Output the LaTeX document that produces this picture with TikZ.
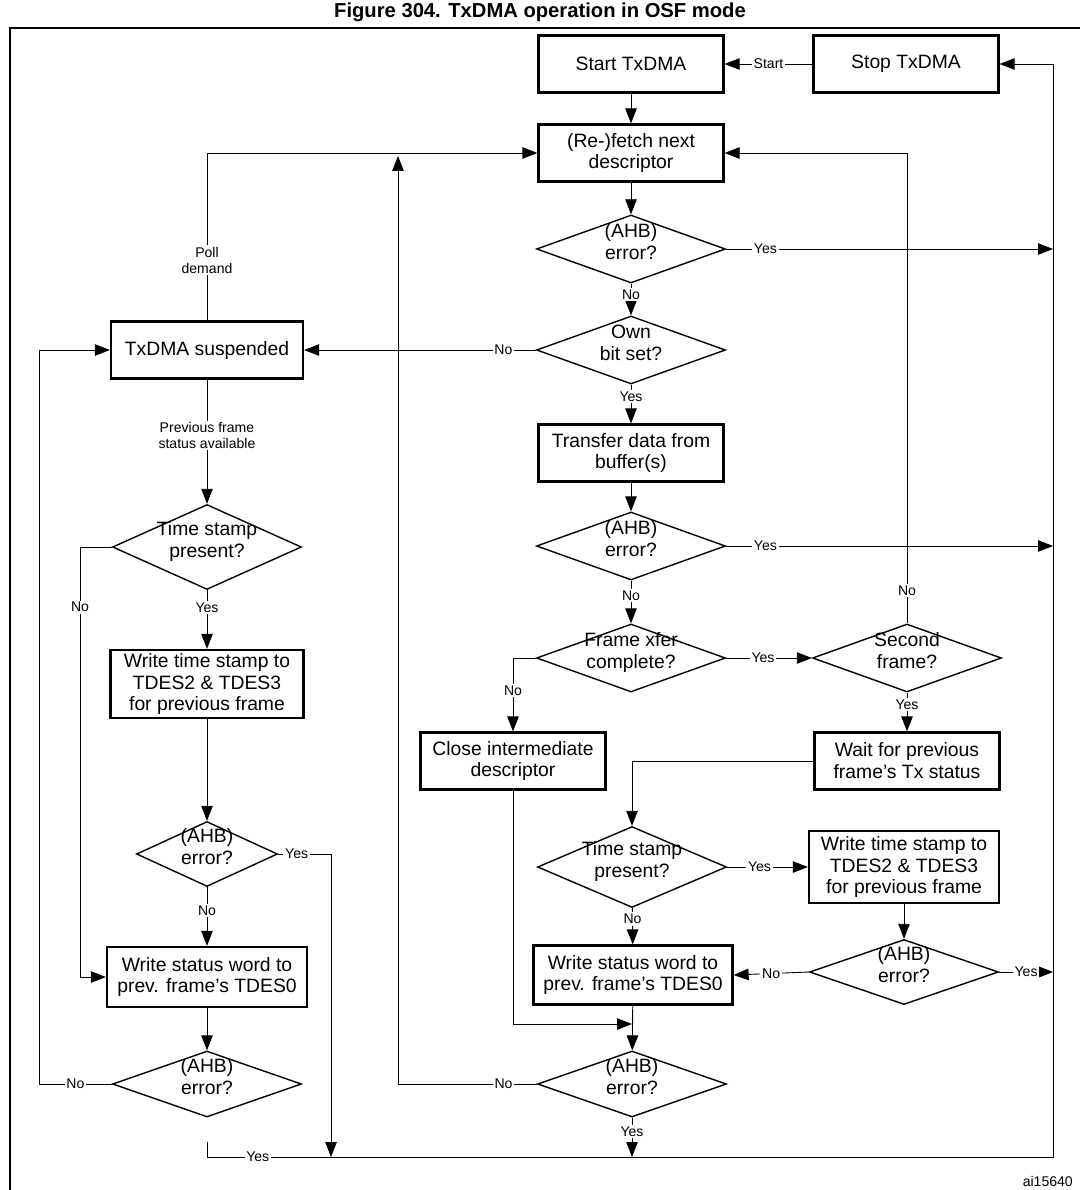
\documentclass[tikz,border=0pt]{standalone}
\usepackage{fontspec}
\setmainfont{Liberation Sans}
\usetikzlibrary{arrows.meta,positioning,shapes.geometric}

\tikzset{
  box/.style={draw, line width=1.3pt, minimum width=3.7cm, minimum height=1.14cm,
              align=center, font=\fontsize{11}{12.5}\selectfont, inner sep=1pt},
  dia/.style={draw, diamond, line width=0.8pt, inner sep=0pt, minimum width=3.78cm,
              minimum height=1.36cm, font=\fontsize{11}{12.5}\selectfont},
  line/.style={line width=0.5pt},
  arr/.style={line width=0.5pt, -{Triangle[length=3mm,width=2.3mm]}},
  lab/.style={fill=white, inner sep=1pt, font=\fontsize{8}{9}\selectfont, align=center}
}
\newcommand{\dtext}[2]{\smash{\makebox[0pt]{\begin{tabular}{@{}c@{}}#1\\#2\end{tabular}}}}

\begin{document}
\begin{tikzpicture}[x=0.02cm,y=-0.02cm]
  \useasboundingbox (0,0) rectangle (1079,1190);
  \draw[line width=1pt] (10,28) rectangle (1090,1200);
  \node[font=\bfseries\fontsize{11.5}{13}\selectfont] (title) at (540,12) {Figure 304. TxDMA operation in OSF mode};
  \node[font=\fontsize{8}{9}\selectfont, anchor=east] (code) at (1079,1181) {ai15640};

  % right column
  \node[box] (start) at (631,64) {Start TxDMA};
  \node[box] (stop) at (906,64) {Stop TxDMA};
  \node[box] (fetch) at (631,153) {(Re-)fetch next\\descriptor};
  \node[dia] (err1) at (631,249) {\dtext{(AHB)}{error?}};
  \node[dia] (own) at (631,350) {\dtext{Own}{bit set?}};
  \node[box] (xfer) at (631,453) {Transfer data from\\buffer(s)};
  \node[dia] (err2) at (631,546) {\dtext{(AHB)}{error?}};
  \node[dia] (fxc) at (631,658) {\dtext{Frame xfer}{complete?}};
  \node[dia] (second) at (907,658) {\dtext{Second}{frame?}};
  \node[box] (close) at (513,761) {Close intermediate\\descriptor};
  \node[box] (wait) at (907,761) {Wait for previous\\frame’s Tx status};
  \node[dia, minimum height=1.62cm] (tsR) at (632,867) {\dtext{Time stamp}{present?}};
  \node[box, minimum width=3.8cm, minimum height=1.44cm] (wtsR) at (904,867) {Write time stamp to\\TDES2 \& TDES3\\for previous frame};
  \node[dia, minimum height=1.3cm] (err3) at (904,972) {\dtext{(AHB)}{error?}};
  \node[box, minimum width=3.98cm, minimum height=1.18cm] (wsR) at (633,975) {Write status word to\\prev. frame’s TDES0};
  \node[dia, minimum height=1.32cm] (err4) at (632,1084) {\dtext{(AHB)}{error?}};

  % left column
  \node[box, minimum width=3.84cm] (susp) at (207,350) {TxDMA suspended};
  \node[dia, minimum height=1.7cm] (tsL) at (207,547) {\dtext{Time stamp}{present?}};
  \node[box, minimum width=3.86cm, minimum height=1.36cm] (wtsL) at (207,684) {Write time stamp to\\TDES2 \& TDES3\\for previous frame};
  \node[dia, minimum width=2.82cm, minimum height=1.3cm] (err5) at (207,854) {\dtext{(AHB)}{error?}};
  \node[box, minimum width=4cm, minimum height=1.2cm] (wsL) at (207,977) {Write status word to\\prev. frame’s TDES0};
  \node[dia, minimum height=1.32cm] (err6) at (207,1084) {\dtext{(AHB)}{error?}};

  % free ends
  \coordinate (rail) at (1053,0);
  \coordinate (bot) at (0,1157);
  \coordinate (upR) at (398,156);
  \coordinate (join) at (632,1024);
  \coordinate (yesL) at (331,1157);
  \coordinate (bl) at (207,1142);
  \coordinate (br) at (1053,1157);

  % connectors
  \draw[arr] (stop) -- node[lab]{Start} (start);
  \draw[arr] (start) -- (fetch);
  \draw[arr] (fetch) -- (err1);
  \draw[arr] (err1.east) -- node[lab, pos=0.12]{Yes} (err1.east -| rail);
  \draw[arr] (err1) -- node[lab, pos=0.35]{No} (own);
  \draw[arr] (own.west) -- node[lab, pos=0.14]{No} (susp.east);
  \draw[arr] (own) -- node[lab, pos=0.3]{Yes} (xfer);
  \draw[arr] (xfer) -- (err2);
  \draw[arr] (err2.east) -- node[lab, pos=0.12]{Yes} (err2.east -| rail);
  \draw[arr] (err2) -- node[lab, pos=0.35]{No} (fxc);
  \draw[arr] (fxc.east) -- node[lab, pos=0.43]{Yes} (second.west);
  \draw[arr] (fxc.west) -| node[lab, pos=0.72]{No} (close.north);
  \draw[arr] (second) -- node[lab, pos=0.3]{Yes} (wait);
  \draw[arr] (second.north) |- node[lab, pos=0.035]{No} (fetch.east);
  \draw[arr] (wait.west) -| (tsR.north);
  \draw[arr] (tsR.east) -- node[lab, pos=0.4]{Yes} (wtsR.west);
  \draw[arr] (tsR) -- node[lab, pos=0.3]{No} (wsR);
  \draw[arr] (wtsR) -- (err3);
  \draw[arr] (err3.west) -- node[lab, pos=0.5]{No} (wsR.east);
  \draw[arr] (err3.east) -- node[lab, pos=0.5]{Yes} (err3.east -| rail);
  \draw[arr] (close.south) |- (join);
  \draw[arr] (wsR) -- (err4);
  \draw[arr] (err4.west) -| node[lab, pos=0.12]{No} (upR);
  \draw[arr] (err4) -- node[lab, pos=0.35]{Yes} (err4.south |- bot);
  \draw[arr] (susp.north) |- node[lab, pos=0.18]{Poll\\demand} (fetch.west);
  \draw[arr] (susp) -- node[lab, pos=0.45]{Previous frame\\status available} (tsL);
  \draw[arr] (tsL) -- node[lab, pos=0.3]{Yes} (wtsL);
  \draw[arr] (tsL.west) -- (tsL.west -| 80,0) |- node[lab, pos=0.07]{No} (wsL.west);
  \draw[arr] (wtsL) -- (err5);
  \draw[arr] (err5) -- node[lab, pos=0.4]{No} (wsL);
  \draw[arr] (err5.east) -- node[lab, pos=0.35]{Yes} (err5.east -| yesL) -- (yesL);
  \draw[arr] (wsL) -- (err6);
  \draw[arr] (err6.west) -- node[lab, pos=0.5]{No} (err6.west -| 39,0) |- (susp.west);
  \draw[arr] (bl) |- node[lab, pos=0.53]{Yes} (br) |- (stop.east);
\end{tikzpicture}
\end{document}
